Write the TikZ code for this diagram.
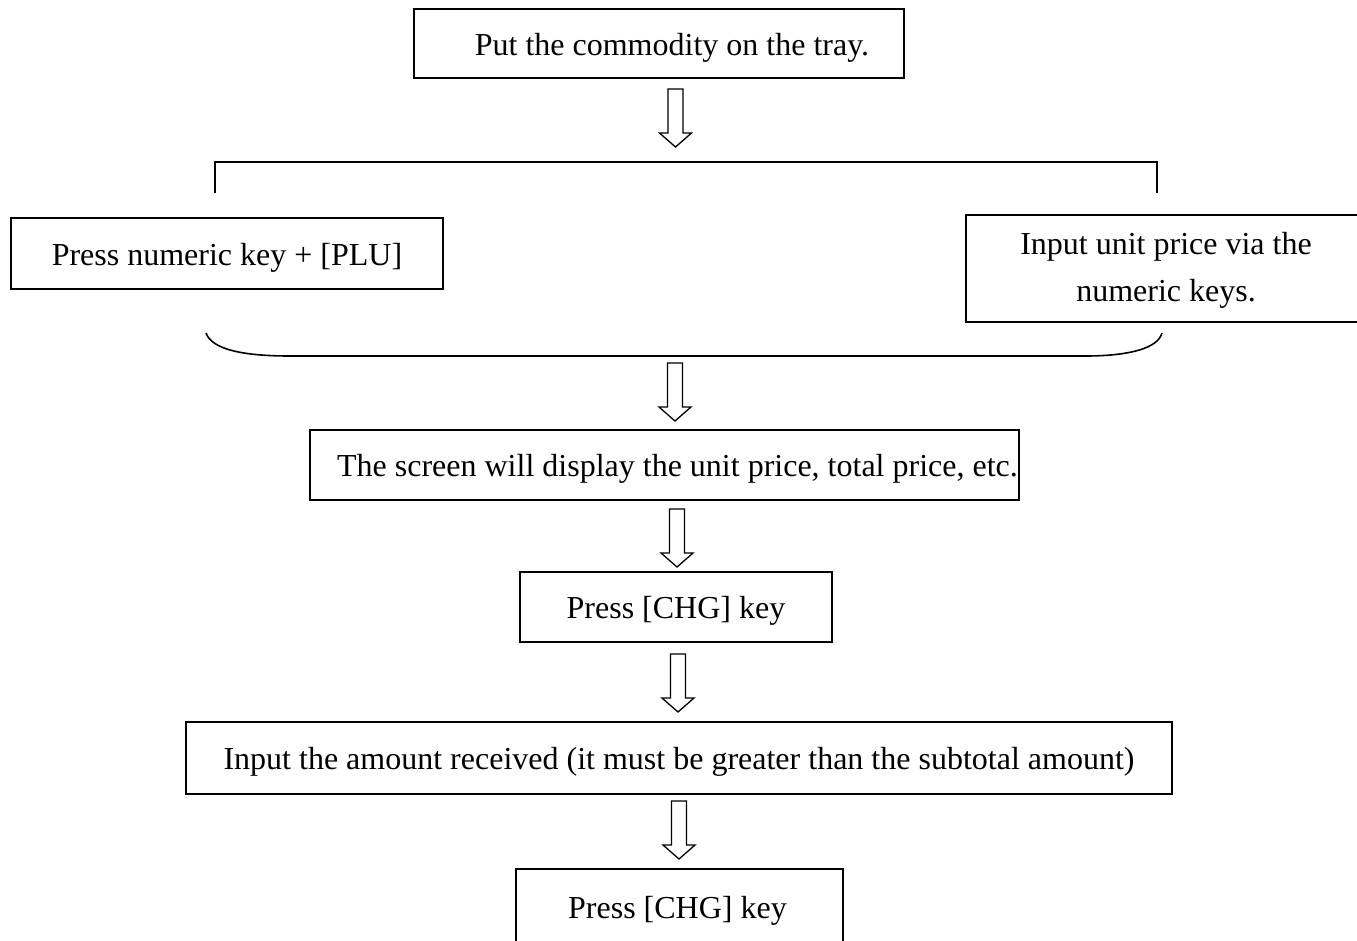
\documentclass[tikz,border=0pt]{standalone}
\usepackage{fontspec}
\setmainfont{Liberation Serif}
\begin{document}
\begin{tikzpicture}[x=1pt,y=-1pt,
  box/.style={draw=black, line width=1.6pt, rectangle, inner sep=0pt, align=center,
    font=\fontsize{32}{47}\selectfont},
  oneline/.style={text height=29pt, text depth=6pt},
  hollowarrow/.pic={\draw[line width=1.3pt, line join=miter, fill=white]
    (-7.5,0) -- (7.5,0) -- (7.5,44) -- (16,44) -- (0,58) -- (-16,44) -- (-7.5,44) -- cycle;},
  conn/.style={line width=1.6pt}]
\useasboundingbox (0,0) rectangle (1357,940);
\clip (0,0) rectangle (1357,940);

\node[box, oneline, minimum width=490pt, minimum height=69pt] (b1) at (659,43.5) {\hspace*{26pt}Put the commodity on the tray.};
\node[box, oneline, minimum width=432pt, minimum height=71pt] (bL) at (227,253.5) {Press numeric key + [PLU]};
\node[box, minimum width=400pt, minimum height=107pt] (bR) at (1166,268.5)
  {\raisebox{-8pt}{\begin{tabular}{@{}c@{}}Input unit price via the\\numeric keys.\end{tabular}}};
\node[box, oneline, minimum width=709pt, minimum height=70pt] (b3) at (664.5,465) {\hspace*{26pt}The screen will display the unit price, total price, etc.};
\node[box, oneline, minimum width=312pt, minimum height=70pt] (b4) at (676,607) {Press [CHG] key};
\node[box, oneline, minimum width=986pt, minimum height=72pt] (b5) at (679,758) {Input the amount received (it must be greater than the subtotal amount)};
\node[box, minimum width=327pt, minimum height=140pt] (b6) at (679.5,939) {};
\node[font=\fontsize{32}{47}\selectfont, anchor=base] (t6) at (677.5,918) {Press [CHG] key};

% bracket
\coordinate (kL) at (215,193);
\coordinate (kR) at (1157,193);
\draw[conn] (kL) -- (215,162) -- (1157,162) -- (kR);

% brace
\coordinate (rL) at (206,333);
\coordinate (rR) at (1162,333);
\draw[conn] (rL) .. controls (212,350) and (245,356) .. (290,356) -- (1085,356)
  .. controls (1130,356) and (1158,348) .. (rR);

% hollow arrows
\pic at (675.5,89) {hollowarrow};
\pic at (675,363) {hollowarrow};
\pic at (677,509) {hollowarrow};
\pic at (678,654) {hollowarrow};
\pic at (679,801) {hollowarrow};
\end{tikzpicture}
\end{document}
